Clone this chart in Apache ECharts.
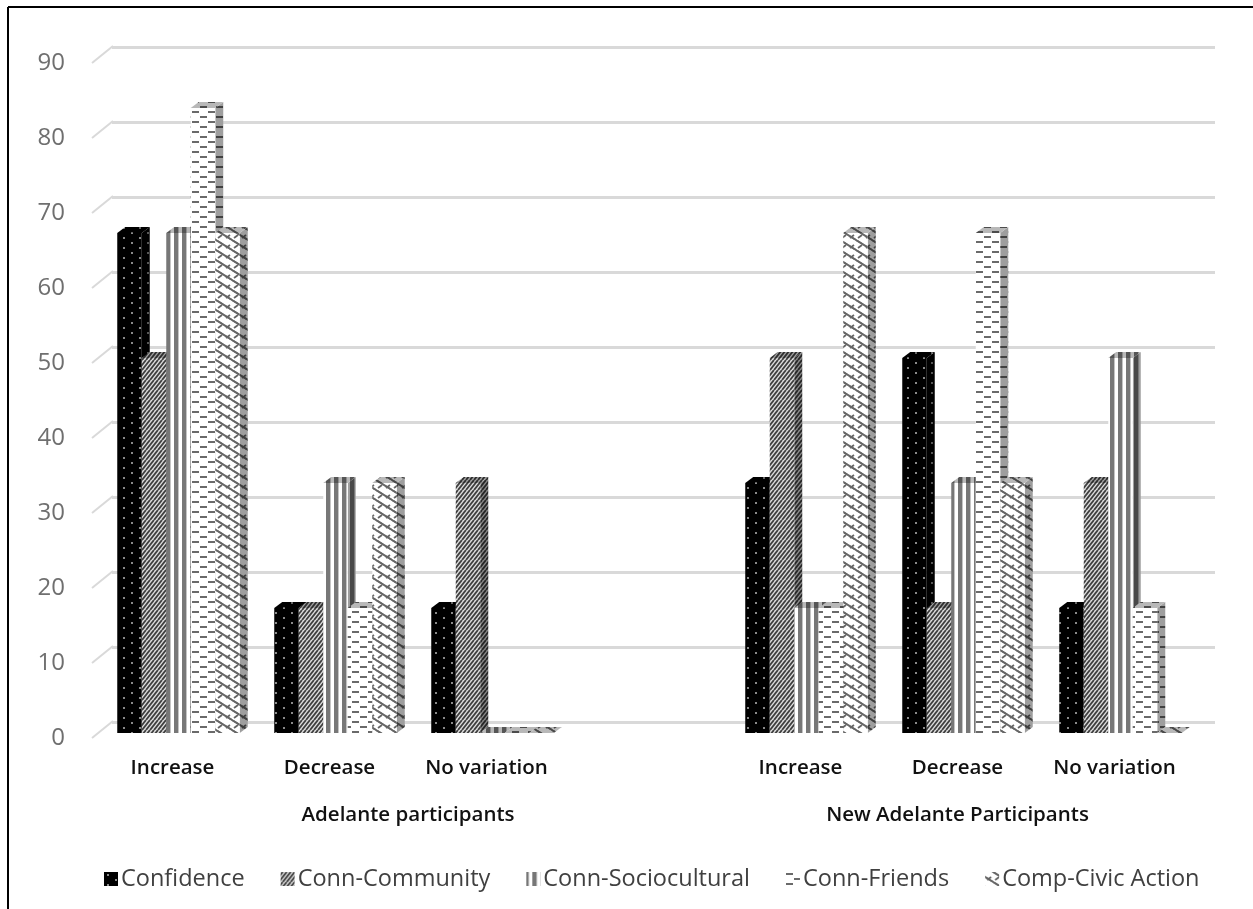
<!DOCTYPE html>
<html>
<head>
<meta charset="utf-8">
<title>Adelante participants chart</title>
<script src="https://cdn.jsdelivr.net/npm/echarts@6/dist/echarts.min.js"></script>
<style>
  html, body { margin: 0; padding: 0; background: #fff; }
  #chart { width: 1253px; height: 909px; }
</style>
</head>
<body>
<div id="chart"></div>
<script>
// data
const categories = ['Increase', 'Decrease', 'No variation', '', 'Increase', 'Decrease', 'No variation'];
const groupNames = ['Adelante participants', 'New Adelante Participants'];
const groupSpans = [[0, 4], [4, 7]];
const seriesNames = ['Confidence', 'Conn-Community', 'Conn-Sociocultural', 'Conn-Friends', 'Comp-Civic Action'];
const confidence = [66.67, 16.67, 16.67, null, 33.33, 50, 16.67];
const connCommunity = [50, 16.67, 33.33, null, 50, 16.67, 33.33];
const connSociocultural = [66.67, 33.33, 0, null, 16.67, 33.33, 50];
const connFriends = [83.33, 16.67, 0, null, 16.67, 66.67, 16.67];
const compCivicAction = [66.67, 33.33, 0, null, 66.67, 33.33, 0];
const yTicks = [0, 10, 20, 30, 40, 50, 60, 70, 80, 90];

const seriesValues = [confidence, connCommunity, connSociocultural, connFriends, compCivicAction];

// fill tiles, one drawing function per series
const painters = [
  function (c) {
    c.fillStyle = '#000'; c.fillRect(0, 0, 16, 10);
    c.fillStyle = '#8a8a8a';
    c.fillRect(3, 2, 2, 2); c.fillRect(11, 7, 2, 2);
  },
  function (c) {
    c.fillStyle = '#e2e2e2'; c.fillRect(0, 0, 16, 10);
    c.strokeStyle = '#404040'; c.lineWidth = 1.9;
    for (let i = -10; i < 26; i += 4) {
      c.beginPath(); c.moveTo(i, 10); c.lineTo(i + 8, 0); c.stroke();
    }
  },
  function (c) {
    c.fillStyle = '#fff'; c.fillRect(0, 0, 16, 10);
    c.fillStyle = '#777';
    c.fillRect(6, 0, 4, 10); c.fillRect(14, 0, 2, 10); c.fillRect(0, 0, 2, 10);
    c.fillStyle = '#c4c4c4';
    c.fillRect(2, 0, 1, 10); c.fillRect(10, 0, 1, 10);
  },
  function (c) {
    c.fillStyle = '#fff'; c.fillRect(0, 0, 16, 10);
    c.fillStyle = '#6a6a6a';
    c.fillRect(0, 1, 7, 2); c.fillRect(8, 6, 7, 2);
  },
  function (c) {
    c.fillStyle = '#fff'; c.fillRect(0, 0, 16, 10);
    c.strokeStyle = '#666'; c.lineWidth = 1.8;
    [[-8, 0, 8, 10], [8, 0, 24, 10], [0, -5, 16, 5], [0, 5, 16, 15]].forEach(function (p) {
      c.beginPath(); c.moveTo(p[0], p[1]); c.lineTo(p[2], p[3]); c.stroke();
    });
    c.beginPath(); c.moveTo(6, 5); c.lineTo(2, 8); c.moveTo(14, 5); c.lineTo(10, 8); c.stroke();
  }
];

function makeFill(idx, shade) {
  const canvas = document.createElement('canvas');
  canvas.width = 16;
  canvas.height = 10;
  const c = canvas.getContext('2d');
  painters[idx](c);
  if (shade) {
    c.fillStyle = 'rgba(0,0,0,' + shade + ')';
    c.fillRect(0, 0, 16, 10);
  }
  return { image: canvas, repeat: 'repeat' };
}

const barWidth = 24.5;
const depthX = 8;
const depthY = 6;

function barSeries(name, idx) {
  const front = makeFill(idx, 0);
  const side = makeFill(idx, 0.38);
  const top = makeFill(idx, 0.28);
  const data = [];
  seriesValues[idx].forEach(function (v, i) {
    if (v !== null) data.push([i, v]);
  });
  return {
    name: name,
    type: 'custom',
    xAxisIndex: 0,
    yAxisIndex: 0,
    itemStyle: { color: front },
    encode: { x: 0, y: 1 },
    data: data,
    renderItem: function (params, api) {
      const p = api.coord([api.value(0), api.value(1)]);
      const base = api.coord([api.value(0), 0]);
      const x = p[0] + (idx - 2.5) * barWidth;
      const y = p[1];
      const h = base[1] - y;
      const children = [];
      if (h > 0) {
        children.push({
          type: 'polygon',
          shape: { points: [[x + barWidth, y], [x + barWidth + depthX, y - depthY], [x + barWidth + depthX, base[1] - depthY], [x + barWidth, base[1]]] },
          style: { fill: side }
        });
        children.push({
          type: 'rect',
          shape: { x: x, y: y, width: barWidth, height: h },
          style: { fill: front }
        });
      }
      children.push({
        type: 'polygon',
        shape: { points: [[x, y], [x + barWidth, y], [x + barWidth + depthX, y - depthY], [x + depthX, y - depthY]] },
        style: { fill: top }
      });
      return { type: 'group', children: children };
    }
  };
}

// slanted wall lines from the axis labels to the back wall
const wallLinks = {
  name: 'wall',
  type: 'custom',
  xAxisIndex: 0,
  yAxisIndex: 0,
  silent: true,
  z: 1,
  data: yTicks.map(function (t) { return [0, t]; }),
  encode: { x: 0, y: 1 },
  renderItem: function (params, api) {
    const p = api.coord([0, api.value(1)]);
    const left = p[0] - api.size([1, 0])[0] / 2;
    return {
      type: 'line',
      shape: { x1: left - 8, y1: p[1] + 5, x2: left + 13, y2: p[1] - 12 },
      style: { stroke: '#d9d9d9', lineWidth: 2 }
    };
  }
};

const chart = echarts.init(document.getElementById('chart'), null, { renderer: 'canvas' });

// hidden x axis for the helper grids
function blankX(gridIndex) {
  return {
    type: 'value',
    gridIndex: gridIndex,
    min: 0,
    max: 1,
    splitLine: { show: false },
    axisLine: { show: false },
    axisTick: { show: false },
    axisLabel: { show: false }
  };
}

const option = {
  animation: false,
  backgroundColor: '#fff',
  textStyle: { fontFamily: 'Open Sans' },
  graphic: [
    { type: 'line', shape: { x1: 8, y1: 7, x2: 1253, y2: 7 }, style: { stroke: '#000', lineWidth: 2 } },
    { type: 'line', shape: { x1: 8, y1: 7, x2: 8, y2: 909 }, style: { stroke: '#000', lineWidth: 2 } }
  ],
  grid: [
    { left: 100, top: 58, width: 1099, height: 675 }, // bars, front plane
    { left: 112, top: 47, width: 1103, height: 675 }, // back wall lines
    { left: 100, top: 63, width: 1099, height: 675 }  // y labels sit a bit below the front plane
  ],
  legend: {
    data: seriesNames,
    left: 99,
    top: 862,
    icon: 'rect',
    itemWidth: 14,
    itemHeight: 14,
    itemGap: 36,
    textStyle: { fontFamily: 'Open Sans', fontSize: 23.5, color: '#404040', padding: [0, 0, 0, -2] }
  },
  xAxis: [
    {
      type: 'category',
      gridIndex: 0,
      data: categories,
      axisLine: { show: false },
      axisTick: { show: false },
      axisLabel: {
        interval: 0,
        margin: 25,
        padding: [0, 12, 0, 0],
        fontFamily: 'Open Sans',
        fontSize: 20.5,
        fontWeight: 600,
        color: '#111'
      }
    },
    {
      type: 'value',
      gridIndex: 0,
      position: 'bottom',
      min: 0,
      max: categories.length,
      splitLine: { show: false },
      axisLine: { show: false },
      axisTick: { show: false },
      axisLabel: {
        customValues: groupSpans.map(function (s) { return (s[0] + s[1]) / 2; }),
        margin: 72,
        padding: [0, 12, 0, 0],
        fontFamily: 'Open Sans',
        fontSize: 20.5,
        fontWeight: 600,
        color: '#111',
        formatter: function (v) {
          const i = groupSpans.findIndex(function (s) { return (s[0] + s[1]) / 2 === v; });
          return groupNames[i];
        }
      }
    },
    blankX(1),
    blankX(2)
  ],
  yAxis: [
    {
      type: 'value',
      gridIndex: 0,
      min: 0,
      max: 90,
      interval: 10,
      splitLine: { show: false },
      axisLine: { show: false },
      axisTick: { show: false },
      axisLabel: { show: false }
    },
    {
      type: 'value',
      gridIndex: 1,
      min: 0,
      max: 90,
      interval: 10,
      splitLine: { show: true, lineStyle: { color: '#d9d9d9', width: 3 } },
      axisLine: { show: false },
      axisTick: { show: false },
      axisLabel: { show: false }
    },
    {
      type: 'value',
      gridIndex: 2,
      min: 0,
      max: 90,
      interval: 10,
      splitLine: { show: false },
      axisLine: { show: false },
      axisTick: { show: false },
      axisLabel: {
        margin: 35,
        fontFamily: 'Open Sans',
        fontSize: 24,
        color: '#6f6f6f'
      }
    }
  ],
  series: [wallLinks].concat(seriesNames.map(barSeries))
};

chart.setOption(option);
window.addEventListener('resize', function () { chart.resize(); });
</script>
</body>
</html>
